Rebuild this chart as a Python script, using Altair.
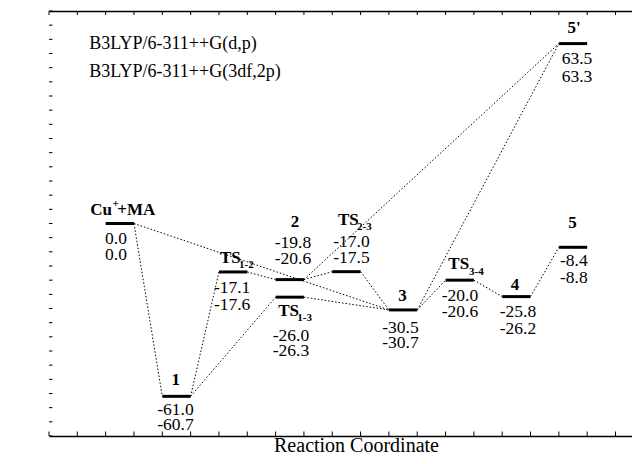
import altair as alt
import pandas as pd

# ---------------- data ----------------
species = ["Cu+MA", "1", "TS1-2", "2", "TS1-3", "TS2-3", "3", "TS3-4", "4", "5", "5'"]
slot = [2, 4, 6, 8, 8, 10, 12, 14, 16, 18, 18]          # reaction-coordinate position (left end of level)
e_dp = [0.0, -61.0, -17.1, -19.8, -26.0, -17.0, -30.5, -20.0, -25.8, -8.4, 63.5]    # B3LYP/6-311++G(d,p)
e_tz = [0.0, -60.7, -17.6, -20.6, -26.3, -17.5, -30.7, -20.6, -26.2, -8.8, 63.3]    # B3LYP/6-311++G(3df,2p)
label_main = ["Cu", "1", "TS", "2", "TS", "TS", "3", "TS", "4", "5", "5'"]
label_sub = ["", "", "1-2", "", "1-3", "2-3", "", "3-4", "", "", ""]
links_from = ["Cu+MA", "Cu+MA", "1", "1", "TS1-2", "2", "2", "TS1-3", "TS2-3", "3", "3", "TS3-4", "4"]
links_to = ["1", "3", "TS1-2", "TS1-3", "2", "TS2-3", "5'", "3", "3", "TS3-4", "5'", "4", "5"]
methods = ["B3LYP/6-311++G(d,p)", "B3LYP/6-311++G(3df,2p)"]
x_ticks = list(range(0, 21))
y_ticks = list(range(-75, 80, 5))

# ---------------- styling (pixel offsets of labels) ----------------
FONT = "Liberation Serif"
UNIT = 28.325            # pixels per reaction-coordinate step
W, H = 583, 425
# species: (main dx, main dy, main align), (sub dx, sub dy), (num dx, dy1, dy2)
STYLE = {
    "Cu+MA": ((-7.8, -14, "right"), None, (-3.8, 15, 31.5)),
    "1": ((-0.7, -16.3, "center"), None, (-1, 13.2, 28.2)),
    "TS1-2": ((-13.1, -13.9, "left"), (5.9, -6.9), (-1, 15.8, 33.1)),
    "2": ((5.2, -57.9, "center"), None, (3.2, -37.1, -20.6)),
    "TS1-3": ((-11.5, 13.8, "left"), (7.5, 20.8), (1.2, 38.8, 53.8)),
    "TS2-3": ((-8.4, -51.7, "left"), (10.6, -44.7), (5.1, -29.2, -13.7)),
    "3": ((-0.6, -13.9, "center"), None, (-2.6, 17.6, 33.1)),
    "TS3-4": ((-11.4, -16.2, "left"), (9.3, -8.5), (0.3, 15.8, 32.3)),
    "4": ((-1.4, -11.6, "center"), None, (1.6, 15.4, 32.4)),
    "5": ((-0.5, -24, "center"), None, (0.8, 13.7, 30.2)),
    "5'": ((1, -15.3, "center"), None, (4, 15.4, 33.1)),
}

xs = alt.Scale(domain=[0, W / UNIT], nice=False, zero=False)
ys = alt.Scale(domain=[-75, 75], nice=False, zero=False)

levels = pd.DataFrame({
    "name": species,
    "x0": slot,
    "x1": [s + 1 for s in slot],
    "xc": [s + 0.5 for s in slot],
    "e": e_dp,
    "e2": e_tz,
})
idx = {n: i for i, n in enumerate(species)}
links = pd.DataFrame({
    "xa": [slot[idx[a]] + 1 for a in links_from],
    "ya": [e_dp[idx[a]] for a in links_from],
    "xb": [slot[idx[b]] for b in links_to],
    "yb": [e_dp[idx[b]] for b in links_to],
})

# ---------------- layers ----------------
bars = alt.Chart(levels).mark_rule(strokeWidth=3, color="black", strokeCap="butt").encode(
    x=alt.X("x0:Q", scale=xs, axis=alt.Axis(
        orient="bottom", domain=True, domainColor="black", domainWidth=1.6,
        ticks=False, labels=False, grid=False,
        title="Reaction Coordinate", titleFont=FONT, titleFontSize=20,
        titleFontWeight="normal", titleColor="black",
        titleBaseline="alphabetic", titleY=15, titleX=307)),
    x2="x1:Q",
    y=alt.Y("e:Q", scale=ys, axis=alt.Axis(
        orient="left", domain=True, domainColor="black", domainWidth=1.6,
        ticks=False, labels=False, grid=False,
        title="Relative Energy (kcalmol\u207b\u00b9)", titleFont=FONT, titleFontSize=20,
        titleFontWeight="normal", titleColor="black", titlePadding=13)),
)

connectors = alt.Chart(links).mark_rule(strokeWidth=1, color="black", strokeDash=[1.5, 2]).encode(
    x=alt.X("xa:Q", scale=xs, axis=None), x2="xb:Q",
    y=alt.Y("ya:Q", scale=ys, axis=None), y2="yb:Q",
)

xt = pd.DataFrame({"t": x_ticks})
yt = pd.DataFrame({"t": y_ticks})
ticks_bottom = alt.Chart(xt).mark_rule(color="black", strokeWidth=1).encode(
    x=alt.X("t:Q", scale=xs, axis=None), y=alt.value(H), y2=alt.value(H - 4.5))
ticks_top = alt.Chart(xt).mark_rule(color="black", strokeWidth=1).encode(
    x=alt.X("t:Q", scale=xs, axis=alt.Axis(orient="top", domain=True, domainColor="black",
                                           domainWidth=1.6, ticks=False, labels=False,
                                           grid=False, title=None)),
    y=alt.value(0), y2=alt.value(4))
ticks_left = alt.Chart(yt).mark_rule(color="black", strokeWidth=1).encode(
    y=alt.Y("t:Q", scale=ys, axis=None), x=alt.value(0), x2=alt.value(3.5))

layers = [connectors, bars, ticks_bottom, ticks_top, ticks_left]


def text_layer(row, text, dx, dy, size, bold, align):
    d = pd.DataFrame({"xc": [row["xc"]], "e": [row["e"]], "t": [text]})
    return alt.Chart(d).mark_text(
        dx=dx, dy=dy, fontSize=size, font=FONT, fontWeight="bold" if bold else "normal",
        align=align, baseline="middle", color="black",
    ).encode(
        x=alt.X("xc:Q", scale=xs, axis=None),
        y=alt.Y("e:Q", scale=ys, axis=None),
        text="t:N",
    )


for i, name in enumerate(species):
    row = levels.iloc[i]
    (mdx, mdy, malign), sub, (ndx, ndy1, ndy2) = STYLE[name]
    layers.append(text_layer(row, label_main[i], mdx, mdy, 17, True, malign))
    if sub:
        layers.append(text_layer(row, label_sub[i], sub[0], sub[1], 11, True, "left"))
    if name == "Cu+MA":
        layers.append(text_layer(row, "+", mdx + 0.5, mdy - 5.5, 11, True, "left"))
        layers.append(text_layer(row, "+MA", mdx + 5.3, mdy, 17, True, "left"))
    layers.append(text_layer(row, f"{e_dp[i]:.1f}", ndx, ndy1, 17.5, False, "center"))
    layers.append(text_layer(row, f"{e_tz[i]:.1f}", ndx, ndy2, 17.5, False, "center"))

for k, m in enumerate(methods):
    layers.append(
        alt.Chart(pd.DataFrame({"t": [m]})).mark_text(
            fontSize=18, font=FONT, align="left", baseline="alphabetic", color="black"
        ).encode(x=alt.value(40.3), y=alt.value(37.5 + 28.5 * k), text="t:N")
    )

chart = alt.layer(*layers).properties(
    width=W, height=H,
    autosize=alt.AutoSizeParams(type="none"),
    padding={"left": 41, "top": 3, "right": 0, "bottom": 16},
    background="white",
).configure_view(stroke=None)

chart.save("out.html", embed_options={"renderer": "svg", "actions": False})
